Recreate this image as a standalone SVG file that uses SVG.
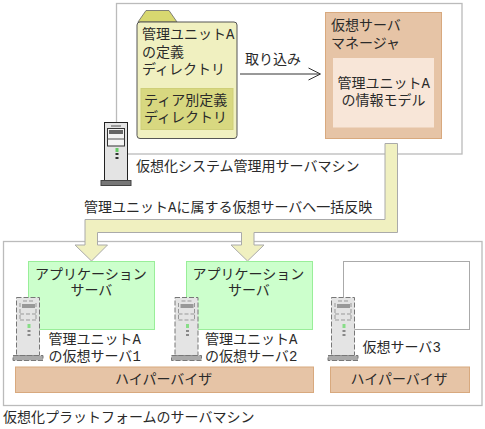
<svg xmlns="http://www.w3.org/2000/svg" width="485" height="429" viewBox="0 0 485 429">
<style>
text{font-family:"Noto Sans CJK JP","DejaVu Sans",sans-serif;font-size:14px;fill:#2a2a2a}
.h{font-family:"Liberation Mono",monospace;font-size:14px}
.box{fill:#fff;stroke:#bbb;stroke-width:1.3}
.mgr{fill:#e6c4a6;stroke:#d8a97e;stroke-width:1}
.app{fill:#ccffcc;stroke:#99ee99;stroke-width:1}
</style>
<defs>
<g id="srv">
<rect x="0.5" y="0.5" width="23" height="58" fill="#e4e4e4" stroke="#222" stroke-width="1"/>
<rect x="-3" y="58.5" width="30" height="5" fill="#777" stroke="#444" stroke-width="1"/>
<rect x="3.5" y="6.500" width="17" height="17.500" fill="#f4f4f4" stroke="#333" stroke-width="1"/>
<rect x="5" y="8" width="14" height="4" fill="#666"/>
<path d="M3.500 17H20.500M7 4H17" stroke="#555" fill="none"/>
<rect x="11.500" y="26" width="3" height="4" fill="#66cc66"/>
<rect x="11.500" y="31" width="3" height="2" fill="#333"/>
<rect x="11.500" y="35" width="3" height="2" fill="#333"/>
</g>
<g id="dsrv">
<rect x="0.500" y="0.500" width="23" height="58" fill="#e4e4e4" stroke="#777" stroke-width="1" stroke-dasharray="5 2"/>
<rect x="-3" y="58.500" width="30" height="5" fill="#aaa" stroke="#777" stroke-width="1" stroke-dasharray="5 2"/>
<path d="M4 6V23M20 6V23M4 23H20M4 17H20M7 4H17" stroke="#999" fill="none" stroke-dasharray="4 2"/>
<rect x="6" y="7" width="13" height="4" fill="#999"/>
<rect x="11.500" y="27" width="3" height="4" fill="#88dd88"/>
<rect x="11.500" y="33" width="3" height="2" fill="#888"/>
<rect x="11.500" y="37" width="3" height="2" fill="#888"/>
</g>
</defs>
<g id="management-machine">
<rect class="box" x="116.500" y="3.500" width="345.500" height="150.500"/>
<text x="136" y="170.500">仮想化システム管理用サーバマシン</text>
</g>
<g id="platform-machine">
<rect class="box" x="3.500" y="241.500" width="478.500" height="164"/>
<text x="3" y="421.500">仮想化プラットフォームのサーバマシン</text>
</g>
<g id="folder">
<path d="M138 22L146 10.500H169L177 22Z" fill="#d8d870" stroke="#666" stroke-width="0.8"/>
<rect x="137" y="22" width="100" height="116.500" rx="3" fill="#f0f0c0" stroke="#555" stroke-width="1"/>
<text x="142" y="39">管理ユニット<tspan class="h">A</tspan><tspan x="142" dy="17.500">の定義</tspan><tspan x="142" dy="17.500">ディレクトリ</tspan></text>
<rect x="141" y="88.500" width="92" height="41" fill="#d8d880" stroke="#cfcf78" stroke-width="1"/>
<text x="144" y="104.500">ティア別定義<tspan x="144" dy="17.500">ディレクトリ</tspan></text>
</g>
<g id="vm-manager">
<rect class="mgr" x="325.500" y="12.500" width="116" height="126"/>
<text x="331" y="29.500">仮想サーバ<tspan x="331" dy="18">マネージャ</tspan></text>
<rect x="333" y="58" width="101" height="69.500" fill="#f8e6d8"/>
<text x="337.500" y="88">管理ユニット<tspan class="h">A</tspan><tspan x="341.500" dy="17">の情報モデル</tspan></text>
</g>
<g id="connectors">
<path d="M240 74H320M308.500 68L320.500 74L308.500 80" fill="none" stroke="#333" stroke-width="1"/>
<path d="M385 143.500H397.500V232.500H254V245H264L247.500 261L231 245H241.500V232.500H97.500V245H107.500L91.500 261L75 245H85V219.500H385Z" fill="#f0f0c0" stroke="#aaa" stroke-width="1"/>
<text x="245" y="64">取り込み</text>
<text x="84" y="211.500">管理ユニット<tspan class="h">A</tspan>に属する仮想サーバへ一括反映</text>
</g>
<g id="server-mgmt"><use href="#srv" x="104" y="122"/></g>
<g id="app-server-1">
<rect class="app" x="28.500" y="261.500" width="126" height="68"/>
<text x="35" y="279">アプリケーション<tspan x="70.500" dy="16">サーバ</tspan></text>
</g>
<g id="app-server-2">
<rect class="app" x="186.500" y="261.500" width="126" height="68"/>
<text x="192.500" y="279">アプリケーション<tspan x="228" dy="16">サーバ</tspan></text>
</g>
<g id="empty-slot"><rect x="343.500" y="261.500" width="126" height="68" fill="#fff" stroke="#aaa" stroke-width="1"/></g>
<g id="vm-1">
<use href="#dsrv" x="16" y="297"/>
<text x="48.500" y="344">管理ユニット<tspan class="h">A</tspan><tspan x="48.500" dy="16.500">の仮想サーバ</tspan><tspan class="h">1</tspan></text>
</g>
<g id="vm-2">
<use href="#dsrv" x="174.500" y="297"/>
<text x="205" y="344">管理ユニット<tspan class="h">A</tspan><tspan x="205" dy="16.500">の仮想サーバ</tspan><tspan class="h">2</tspan></text>
</g>
<g id="vm-3">
<use href="#dsrv" x="331" y="297"/>
<text x="362.500" y="351.500">仮想サーバ<tspan class="h">3</tspan></text>
</g>
<g id="hypervisor-1">
<rect class="mgr" x="15.500" y="367" width="298" height="25.500"/>
<text x="115" y="383.500">ハイパーバイザ</text>
</g>
<g id="hypervisor-2">
<rect class="mgr" x="330.500" y="367" width="139" height="25.500"/>
<text x="350.500" y="383.500">ハイパーバイザ</text>
</g>
</svg>
